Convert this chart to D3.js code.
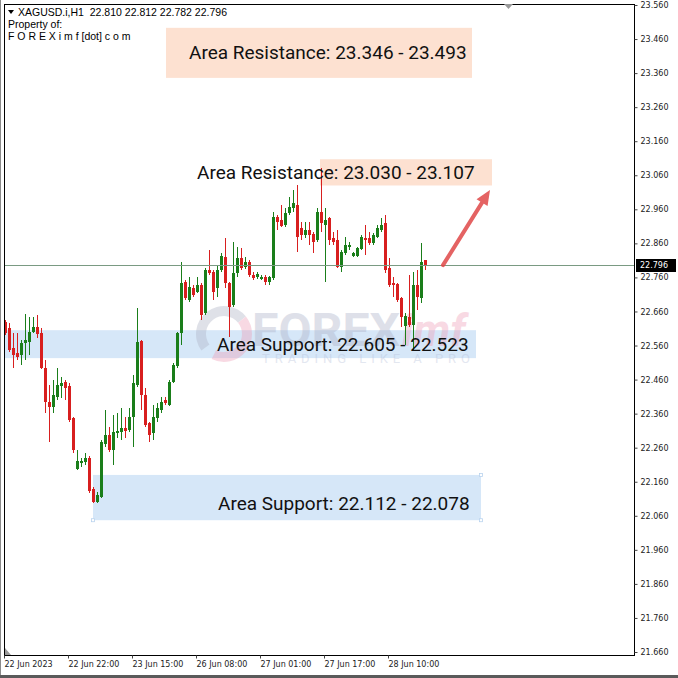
<!DOCTYPE html>
<html><head><meta charset="utf-8">
<script src="https://cdn.jsdelivr.net/npm/d3@7"></script>
<style>html,body{margin:0;padding:0;background:#fff;} svg{display:block;}</style>
</head><body><svg id="c" width="678" height="678"></svg>
<script>
// ---------- DATA ----------
const openP  = [22.629,22.611,22.553,22.538,22.532,22.567,22.570,22.600,22.614,22.597,
22.494,22.394,22.379,22.409,22.441,22.453,22.441,22.347,22.197,22.215,
22.218,22.230,22.139,22.100,22.115,22.271,22.297,22.253,22.303,22.306,
22.318,22.312,22.350,22.444,22.573,22.415,22.332,22.303,22.347,22.371,
22.400,22.385,22.453,22.500,22.597,22.746,22.694,22.729,22.717,22.737,
22.655,22.782,22.776,22.729,22.782,22.820,22.743,22.679,22.773,22.817,
22.790,22.805,22.767,22.761,22.758,22.761,22.746,22.758,22.937,22.929,
22.914,22.949,22.964,22.973,22.905,22.884,22.899,22.887,22.870,22.952,
22.914,22.934,22.876,22.870,22.790,22.831,22.849,22.823,22.823,22.843,
22.876,22.876,22.861,22.879,22.899,22.920,22.788,22.743,22.740,22.699,
22.617,22.643,22.620,22.737,22.699,22.810];
const highP  = [22.635,22.626,22.597,22.597,22.576,22.652,22.644,22.644,22.649,22.611,
22.517,22.444,22.459,22.494,22.468,22.459,22.450,22.350,22.253,22.230,
22.244,22.235,22.145,22.130,22.282,22.371,22.321,22.356,22.362,22.376,
22.350,22.376,22.474,22.670,22.576,22.435,22.335,22.385,22.391,22.409,
22.409,22.459,22.509,22.600,22.805,22.752,22.761,22.737,22.761,22.743,
22.788,22.840,22.782,22.793,22.831,22.876,22.746,22.864,22.849,22.846,
22.820,22.811,22.776,22.776,22.767,22.767,22.764,22.952,22.943,22.973,
22.964,22.996,23.017,23.031,22.923,22.923,22.923,22.893,22.964,23.081,
22.964,22.937,22.893,22.899,22.840,22.879,22.864,22.834,22.849,22.884,
22.914,22.893,22.890,22.914,22.934,22.943,22.817,22.761,22.743,22.702,
22.655,22.767,22.776,22.782,22.861,22.812];
const lowP   = [22.591,22.541,22.494,22.517,22.503,22.517,22.532,22.597,22.582,22.491,
22.362,22.276,22.362,22.400,22.406,22.400,22.335,22.244,22.194,22.203,
22.209,22.127,22.097,22.097,22.112,22.262,22.247,22.209,22.288,22.282,
22.288,22.306,22.262,22.438,22.371,22.321,22.276,22.282,22.335,22.362,
22.385,22.382,22.450,22.494,22.561,22.694,22.688,22.702,22.714,22.635,
22.649,22.767,22.694,22.702,22.776,22.729,22.585,22.673,22.761,22.782,
22.785,22.761,22.752,22.755,22.752,22.737,22.737,22.752,22.899,22.908,
22.908,22.943,22.952,22.834,22.870,22.876,22.855,22.831,22.864,22.893,
22.746,22.855,22.855,22.788,22.776,22.826,22.840,22.820,22.820,22.840,
22.826,22.855,22.855,22.876,22.893,22.773,22.732,22.702,22.688,22.614,
22.561,22.614,22.547,22.664,22.685,22.782];
const closeP = [22.597,22.547,22.532,22.526,22.567,22.576,22.600,22.614,22.594,22.494,
22.394,22.379,22.415,22.444,22.450,22.435,22.341,22.253,22.221,22.221,
22.230,22.133,22.100,22.121,22.276,22.297,22.253,22.306,22.309,22.318,
22.309,22.350,22.450,22.570,22.415,22.326,22.297,22.350,22.376,22.394,
22.391,22.453,22.503,22.597,22.743,22.699,22.732,22.708,22.737,22.649,
22.782,22.773,22.717,22.782,22.823,22.743,22.673,22.773,22.817,22.788,
22.805,22.767,22.758,22.770,22.761,22.746,22.761,22.937,22.923,22.911,
22.949,22.967,22.978,22.879,22.884,22.899,22.884,22.864,22.952,22.920,
22.929,22.870,22.864,22.790,22.834,22.855,22.855,22.831,22.846,22.879,
22.870,22.861,22.884,22.905,22.914,22.782,22.737,22.737,22.694,22.644,
22.646,22.620,22.737,22.702,22.805,22.796];

const priceTicks = [23.56,23.46,23.36,23.26,23.16,23.06,22.96,22.86,22.76,22.66,
                    22.56,22.46,22.36,22.26,22.16,22.06,21.96,21.86,21.76,21.66];
const timeTickBars   = [0,16,32,48,64,80,96];
const timeTickLabels = ["22 Jun 2023","22 Jun 22:00","23 Jun 15:00","26 Jun 08:00",
                        "27 Jun 01:00","27 Jun 17:00","28 Jun 10:00"];

const zoneLabels = ["Area Resistance: 23.346 - 23.493","Area Resistance: 23.030 - 23.107",
                    "Area Support: 22.605 - 22.523","Area Support: 22.112 - 22.078"];
const zoneKinds  = ["res","res","sup","sup"];
const zoneLow    = [23.346, 23.030, 22.523, 22.047];
const zoneHigh   = [23.493, 23.107, 22.605, 22.180];
const zoneFrom   = [40.25, 78.75, -0.5, 22];
const zoneTo     = [116.75, 121.75, 117.75, 119];
const labelBar   = [46, 48, 53, 53.25];
const labelPrice = [23.4195, 23.0685, 22.564, 22.095];

const bidPrice  = 22.796;
const arrowFrom = [109.5, 22.796];
const arrowTo   = [121.25, 23.017];
const headerTxt = "XAGUSD.i,H1  22.810 22.812 22.782 22.796";

// ---------- LAYOUT ----------
const L = 4, R = 634, T = 4, B = 655;
const svg = d3.select("#c");
const x = d3.scaleLinear().domain([0, 1]).range([5, 9]);
const y = d3.scaleLinear().domain([21.66, 23.56]).range([652, 5]);
const GREEN = "#1a7e1a", RED = "#d81f1f";

svg.append("rect").attr("width",678).attr("height",678).attr("fill","#fff");
svg.append("defs").append("clipPath").attr("id","pc")
  .append("rect").attr("x",L).attr("y",T).attr("width",R-L).attr("height",B-T);

const plot = svg.append("g").attr("clip-path","url(#pc)");

// zones
const zones = d3.range(zoneLabels.length);
plot.selectAll("rect.zone").data(zones).join("rect").attr("class","zone")
  .attr("x", i => x(zoneFrom[i]))
  .attr("width", i => x(zoneTo[i]) - x(zoneFrom[i]))
  .attr("y", i => y(zoneHigh[i]))
  .attr("height", i => y(zoneLow[i]) - y(zoneHigh[i]))
  .attr("fill", i => zoneKinds[i] === "res" ? "#fde1d1" : "#d6e7f8");

// handles on the last support zone
const hz = 3;
[[zoneFrom[hz],zoneLow[hz]],[zoneTo[hz],zoneHigh[hz]],[zoneTo[hz],zoneLow[hz]]].forEach(p=>{
  plot.append("rect").attr("x",x(p[0])-1.5).attr("y",y(p[1])-1.5).attr("width",3).attr("height",3)
    .attr("fill","#fff").attr("stroke","#b9d3ee").attr("stroke-width",0.8);
});

// watermark (faint)
const wm = plot.append("g").attr("opacity",0.38);
const arc1 = d3.arc().innerRadius(18).outerRadius(28);
wm.append("path").attr("transform","translate(224,334)")
  .attr("d", arc1({startAngle: -2.2, endAngle: 0.9})).attr("fill","#aeb2c4");
wm.append("path").attr("transform","translate(224,334)")
  .attr("d", arc1({startAngle: 0.9, endAngle: 3.6})).attr("fill","#ee9db6");
wm.append("text").attr("x",252).attr("y",346).text("FOREX")
  .attr("font-family","Roboto, sans-serif").attr("font-weight","bold").attr("font-size",46)
  .attr("textLength",148).attr("lengthAdjust","spacingAndGlyphs").attr("fill","#aab0c6");
wm.append("text").attr("x",402).attr("y",346).text("imf")
  .attr("font-family","Roboto, sans-serif").attr("font-weight","bold").attr("font-style","italic")
  .attr("font-size",44).attr("fill","#ee9db6");
wm.append("text").attr("x",262).attr("y",363).text("TRADING LIKE A PRO")
  .attr("font-family","Roboto, sans-serif").attr("font-size",13)
  .attr("textLength",208).attr("lengthAdjust","spacing").attr("fill","#b7c1da");

// candles
const bars = d3.range(openP.length);
const cg = plot.append("g").attr("shape-rendering","crispEdges");
cg.selectAll("line.w").data(bars).join("line").attr("class","w")
  .attr("x1", i => x(i)+0.5).attr("x2", i => x(i)+0.5)
  .attr("y1", i => y(highP[i])).attr("y2", i => y(lowP[i]))
  .attr("stroke", i => closeP[i] >= openP[i] ? GREEN : RED).attr("stroke-width",1);
cg.selectAll("rect.b").data(bars).join("rect").attr("class","b")
  .attr("x", i => x(i)-1).attr("width",3)
  .attr("y", i => y(Math.max(openP[i],closeP[i])))
  .attr("height", i => Math.max(1.5, Math.abs(y(openP[i]) - y(closeP[i]))))
  .attr("fill", i => closeP[i] >= openP[i] ? GREEN : RED);

// bid line
plot.append("line").attr("x1",L).attr("x2",R).attr("y1",Math.round(y(bidPrice))+0.5).attr("y2",Math.round(y(bidPrice))+0.5)
  .attr("stroke","#7a9a82").attr("stroke-width",1);

// zone labels
plot.selectAll("text.zl").data(zones).join("text").attr("class","zl")
  .attr("x", i => x(labelBar[i])).attr("y", i => y(labelPrice[i]))
  .attr("dominant-baseline","central")
  .attr("font-family","Roboto, sans-serif").attr("font-size",19).attr("fill","#111")
  .text(i => zoneLabels[i]);

// arrow
const ax1 = x(arrowFrom[0]), ay1 = y(arrowFrom[1]), ax2 = x(arrowTo[0]), ay2 = y(arrowTo[1]);
const ang = Math.atan2(ay2-ay1, ax2-ax1), hl = 15, hw = 6.5;
const bx = ax2 - hl*Math.cos(ang), by = ay2 - hl*Math.sin(ang);
const ag = plot.append("g").attr("opacity",0.85);
ag.append("line").attr("x1",ax1).attr("y1",ay1).attr("x2",bx).attr("y2",by)
  .attr("stroke","#e04848").attr("stroke-width",4).attr("stroke-linecap","round");
ag.append("path").attr("d", `M${ax2},${ay2} L${bx - hw*Math.sin(ang)},${by + hw*Math.cos(ang)} L${bx + hw*Math.sin(ang)},${by - hw*Math.cos(ang)} Z`)
  .attr("fill","#e04848");

// header
const hd = svg.append("g").attr("font-family","'Liberation Sans', Arial, sans-serif").attr("font-size",10.5).attr("fill","#000");
hd.append("path").attr("d","M8,10 L14,10 L11,14 Z").attr("fill","#000");
hd.append("text").attr("x",18).attr("y",16).attr("xml:space","preserve").text(headerTxt);
hd.append("text").attr("x",8).attr("y",28).text("Property of:");
hd.append("text").attr("x",8).attr("y",40).text("F O R E X i m f [dot] c o m");

// frame
svg.append("rect").attr("x",L+0.5).attr("y",T+0.5).attr("width",R-L).attr("height",B-T)
  .attr("fill","none").attr("stroke","#000").attr("stroke-width",1);
// shift marker & corner marker
svg.append("path").attr("d","M504,4 L513,4 L508.5,9 Z").attr("fill","#9a9a9a");
svg.append("path").attr("d","M5,648 L5,655 L11,655 Z").attr("fill","#9a9a9a");

// right price axis
const ya = svg.append("g").attr("transform",`translate(${R+0.5},0)`)
  .call(d3.axisRight(y).tickValues(priceTicks).tickFormat(d3.format(".3f")).tickSize(3).tickPadding(3));
ya.select(".domain").remove();
ya.selectAll("text").attr("font-family","'DejaVu Sans', sans-serif").attr("font-size",8).attr("fill","#222");
ya.selectAll("line").attr("stroke","#444");

// current price tag
const by0 = Math.round(y(bidPrice));
svg.append("rect").attr("x",R+2).attr("y",by0-6).attr("width",40).attr("height",13).attr("fill","#000");
svg.append("text").attr("x",R+6).attr("y",by0+0.5).attr("dominant-baseline","central")
  .attr("font-family","'DejaVu Sans', sans-serif").attr("font-size",8).attr("fill","#fff")
  .text(d3.format(".3f")(bidPrice));

// bottom time axis
const xa = svg.append("g").attr("transform",`translate(-1,${B+0.5})`)
  .call(d3.axisBottom(x).tickValues(timeTickBars).tickFormat((d,i)=>timeTickLabels[i]).tickSize(3).tickPadding(3));
xa.select(".domain").remove();
xa.selectAll("text").attr("text-anchor","start").attr("x",0)
  .attr("font-family","'DejaVu Sans', sans-serif").attr("font-size",8).attr("fill","#222");
xa.selectAll("line").attr("stroke","#444");

// window edges
svg.append("line").attr("x1",0.5).attr("x2",0.5).attr("y1",0).attr("y2",678).attr("stroke","#8a8a8a");
svg.append("rect").attr("x",0).attr("y",675).attr("width",678).attr("height",3).attr("fill","#5a5a5a");
</script></body></html>
